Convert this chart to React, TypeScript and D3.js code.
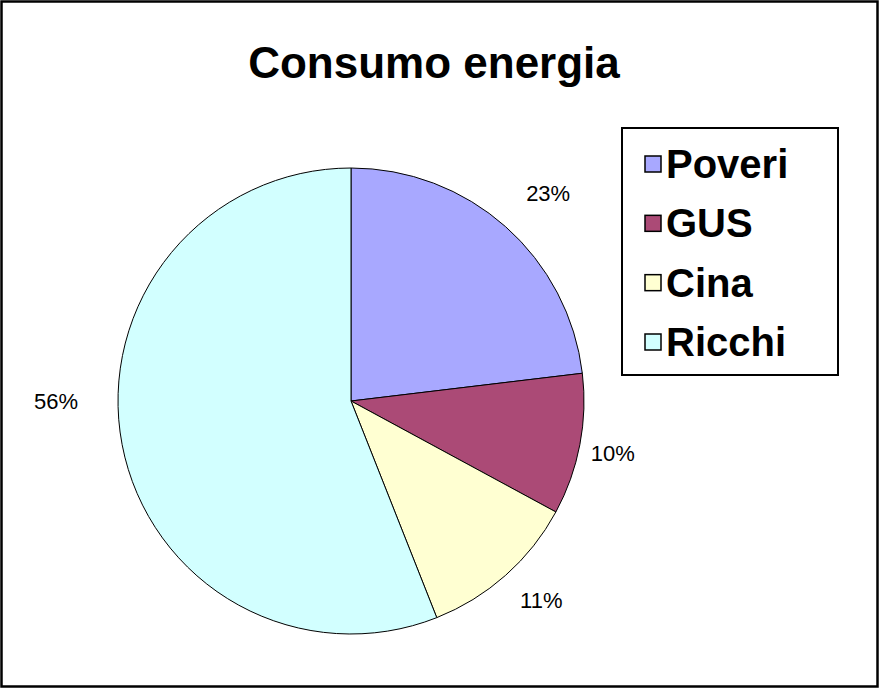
import React from "react";
import * as d3 from "d3";

const title = "Consumo energia";
const categories = ["Poveri", "GUS", "Cina", "Ricchi"];
const values = [23.1, 9.8, 11.1, 56.0];
const colors = ["#A8A8FF", "#AB4A76", "#FFFFD2", "#D2FFFF"];

const W = 879;
const H = 688;

// label placement (layout only): angular nudge in degrees and radius
const labelNudge = [2, 0.5, -2, 10.8];
const labelRadius = [286, 267, 276, 295];

export default function App() {
  const cx = 351;
  const cy = 401;
  const r = 233;
  const total = d3.sum(values);
  const pie = d3.pie<number>().sort(null).value((d) => d)(values);
  const arc = d3.arc<d3.PieArcDatum<number>>().innerRadius(0).outerRadius(r);
  const fmt = d3.format(".0%");

  const legendX = 622;
  const legendY = 128;
  const legendW = 216;
  const legendH = 247;
  const rowY = d3
    .scalePoint<string>()
    .domain(categories)
    .range([legendY + 36, legendY + 214]);

  return (
    <svg
      width={W}
      height={H}
      style={{ position: "fixed", left: 0, top: 0, background: "#fff" }}
      fontFamily="'Liberation Sans', Arial, sans-serif"
    >
      <rect x={0} y={0} width={W} height={H} fill="#fff" />
      <rect
        x={1.5}
        y={1.5}
        width={W - 3}
        height={H - 3}
        fill="none"
        stroke="#000"
        strokeWidth={2.5}
      />
      <text
        x={434}
        y={78}
        textAnchor="middle"
        fontSize={44}
        fontWeight="bold"
        fill="#000"
      >
        {title}
      </text>
      <g transform={`translate(${cx},${cy})`}>
        {pie.map((p, i) => (
          <path
            key={categories[i]}
            d={arc(p) || ""}
            fill={colors[i]}
            stroke="#000"
            strokeWidth={1}
          />
        ))}
        {pie.map((p, i) => {
          const a = (p.startAngle + p.endAngle) / 2 + (labelNudge[i] * Math.PI) / 180;
          const lr = labelRadius[i];
          const lx = Math.sin(a) * lr;
          const ly = -Math.cos(a) * lr;
          return (
            <text
              key={"l" + i}
              x={lx}
              y={ly}
              textAnchor="middle"
              dominantBaseline="central"
              fontSize={22}
              fill="#000"
            >
              {fmt(values[i] / total)}
            </text>
          );
        })}
      </g>
      <rect
        x={legendX}
        y={legendY}
        width={legendW}
        height={legendH}
        fill="#fff"
        stroke="#000"
        strokeWidth={2}
      />
      {categories.map((c, i) => {
        const y = rowY(c) as number;
        return (
          <g key={c}>
            <rect
              x={645}
              y={y - 8}
              width={16}
              height={16}
              fill={colors[i]}
              stroke="#000"
              strokeWidth={1.5}
            />
            <text
              x={666}
              y={y}
              dominantBaseline="central"
              fontSize={40}
              fontWeight="bold"
              fill="#000"
            >
              {c}
            </text>
          </g>
        );
      })}
    </svg>
  );
}
